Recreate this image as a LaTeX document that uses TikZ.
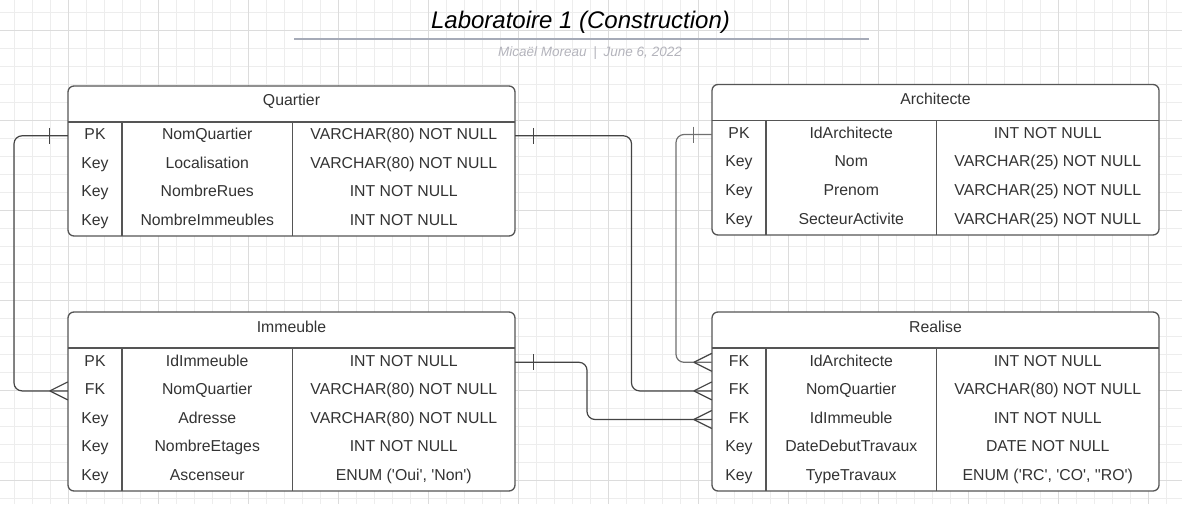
\documentclass[tikz,border=0pt]{standalone}
\usepackage{fontspec}
\setmainfont{Liberation Sans}[Ligatures=TeXOff]
\usetikzlibrary{calc}
\definecolor{gminor}{HTML}{EDEDED}
\definecolor{gmajor}{HTML}{DCDCDC}
\definecolor{txt}{HTML}{333333}
\definecolor{border}{HTML}{555555}
\definecolor{linec}{HTML}{444444}
\definecolor{linelight}{HTML}{707070}
\definecolor{rulec}{HTML}{A6ABB8}
\definecolor{subc}{HTML}{B4B4BC}
\tikzset{
  gridminor/.style={draw=gminor, line width=1pt},
  gridmajor/.style={draw=gmajor, line width=1pt},
  tbl/.style={draw=border, line width=1.3pt, fill=white, rounded corners=6pt},
  sep/.style={draw=border, line width=1.2pt},
  cellbase/.style={inner sep=0pt, minimum height=28.5pt, text height=11pt, text depth=3.5pt,
    text=txt, font=\fontsize{15.8}{18}\selectfont},
  cellk/.style={cellbase, minimum width=54pt},
  celln/.style={cellbase, minimum width=170.5pt},
  cellt/.style={cellbase, minimum width=222.5pt},
  hdr/.style={cellbase},
  conn/.style={draw=linec, line width=1.2pt, rounded corners=8pt},
  connl/.style={draw=linelight, line width=1.2pt, rounded corners=8pt},
  mark1/.style={draw=linec, line width=1.2pt},
}
\newcommand\errow[7]{%
  \node[cellk] (#1k#2) at (#3+27,#4) {#5};
  \node[celln] (#1n#2) at (#3+54+85.25,#4) {#6};
  \node[cellt] (#1t#2) at (#3+224.5+111.25,#4) {#7};
}
\begin{document}
\begin{tikzpicture}[x=1pt,y=-1pt]
\useasboundingbox (0,0) rectangle (1182,504);
\fill[white] (0,0) rectangle (1182,504);
% grid
\foreach \x in {14,32,...,1182} \draw[gridminor] (\x,0) -- (\x,504);
\foreach \y in {12,30,...,504} \draw[gridminor] (0,\y) -- (1182,\y);
\foreach \x in {68,158,...,1182} \draw[gridmajor] (\x,0) -- (\x,504);
\foreach \y in {30,120,...,504} \draw[gridmajor] (0,\y) -- (1182,\y);

% title
\node[anchor=base, inner sep=0pt, font=\fontsize{24}{28}\selectfont\itshape] (title) at (580.5,28) {Laboratoire 1 (Construction)};
\draw[draw=rulec, line width=2pt] (294,38.5) -- (869,38.5);
\node[anchor=base, inner sep=0pt, text=subc, font=\fontsize{13.5}{16}\selectfont\itshape] (sub) at (590,56) {Micaël Moreau\enspace|\enspace June 6, 2022};

% ---------- Quartier ----------
\draw[tbl] (68,86) rectangle (515,236);
\draw[sep] (68,122) -- (515,122);
\draw[sep] (122,122) -- (122,236);
\draw[sep] (292.5,122) -- (292.5,236);
\node[hdr] (qh) at (291.5,102) {Quartier};
\errow{q}{1}{68}{135.8}{PK}{NomQuartier}{VARCHAR(80) NOT NULL}
\errow{q}{2}{68}{164.5}{Key}{Localisation}{VARCHAR(80) NOT NULL}
\errow{q}{3}{68}{193}{Key}{NombreRues}{INT NOT NULL}
\errow{q}{4}{68}{221.5}{Key}{NombreImmeubles}{INT NOT NULL}

% ---------- Architecte ----------
\draw[tbl] (712,84.5) rectangle (1159,235);
\draw[sep] (712,120.5) -- (1159,120.5);
\draw[sep] (766,120.5) -- (766,235);
\draw[sep] (936.5,120.5) -- (936.5,235);
\node[hdr] (ah) at (935.5,101) {Architecte};
\errow{a}{1}{712}{134.5}{PK}{IdArchitecte}{INT NOT NULL}
\errow{a}{2}{712}{163.2}{Key}{Nom}{VARCHAR(25) NOT NULL}
\errow{a}{3}{712}{191.8}{Key}{Prenom}{VARCHAR(25) NOT NULL}
\errow{a}{4}{712}{220.4}{Key}{SecteurActivite}{VARCHAR(25) NOT NULL}

% ---------- Immeuble ----------
\draw[tbl] (68,312) rectangle (515,491);
\draw[sep] (68,348) -- (515,348);
\draw[sep] (122,348) -- (122,491);
\draw[sep] (292.5,348) -- (292.5,491);
\node[hdr] (ih) at (291.5,328.5) {Immeuble};
\errow{i}{1}{68}{362.3}{PK}{IdImmeuble}{INT NOT NULL}
\errow{i}{2}{68}{390.9}{FK}{NomQuartier}{VARCHAR(80) NOT NULL}
\errow{i}{3}{68}{419.5}{Key}{Adresse}{VARCHAR(80) NOT NULL}
\errow{i}{4}{68}{448.1}{Key}{NombreEtages}{INT NOT NULL}
\errow{i}{5}{68}{476.7}{Key}{Ascenseur}{ENUM ('Oui', 'Non')}

% ---------- Realise ----------
\draw[tbl] (712,312) rectangle (1159,491);
\draw[sep] (712,348) -- (1159,348);
\draw[sep] (766,348) -- (766,491);
\draw[sep] (936.5,348) -- (936.5,491);
\node[hdr] (rh) at (935.5,328.5) {Realise};
\errow{r}{1}{712}{362.3}{FK}{IdArchitecte}{INT NOT NULL}
\errow{r}{2}{712}{390.9}{FK}{NomQuartier}{VARCHAR(80) NOT NULL}
\errow{r}{3}{712}{419.5}{FK}{IdImmeuble}{INT NOT NULL}
\errow{r}{4}{712}{448.1}{Key}{DateDebutTravaux}{DATE NOT NULL}
\errow{r}{5}{712}{476.7}{Key}{TypeTravaux}{ENUM ('RC', 'CO', ''RO')}

% ---------- connectors ----------
\coordinate (lx) at (14,0);
\coordinate (mx) at (631.5,0);
\coordinate (ax) at (676,0);
\coordinate (ix) at (587,0);

% Quartier -> Immeuble
\draw[conn] (qk1.west) -| (lx |- ik2.west) -- (ik2.west);
\draw[mark1] ([xshift=-18pt,yshift=8pt]qk1.west) -- ([xshift=-18pt,yshift=-8pt]qk1.west);
\draw[mark1] ([xshift=-18pt]ik2.west) -- ([yshift=9pt]ik2.west)
             ([xshift=-18pt]ik2.west) -- ([yshift=-9pt]ik2.west);

% Quartier -> Realise
\draw[conn] (qt1.east) -| (mx |- rk2.west) -- (rk2.west);
\draw[mark1] ([xshift=18pt,yshift=8pt]qt1.east) -- ([xshift=18pt,yshift=-8pt]qt1.east);
\draw[mark1] ([xshift=-18pt]rk2.west) -- ([yshift=9pt]rk2.west)
             ([xshift=-18pt]rk2.west) -- ([yshift=-9pt]rk2.west);

% Architecte -> Realise
\draw[connl] (ak1.west) -| (ax |- rk1.west) -- (rk1.west);
\draw[mark1, draw=linelight] ([xshift=-18pt,yshift=8pt]ak1.west) -- ([xshift=-18pt,yshift=-8pt]ak1.west);
\draw[mark1] ([xshift=-18pt]rk1.west) -- ([yshift=9pt]rk1.west)
             ([xshift=-18pt]rk1.west) -- ([yshift=-9pt]rk1.west);

% Immeuble -> Realise
\draw[conn] (it1.east) -| (ix |- rk3.west) -- (rk3.west);
\draw[mark1] ([xshift=18pt,yshift=8pt]it1.east) -- ([xshift=18pt,yshift=-8pt]it1.east);
\draw[mark1] ([xshift=-18pt]rk3.west) -- ([yshift=9pt]rk3.west)
             ([xshift=-18pt]rk3.west) -- ([yshift=-9pt]rk3.west);
\end{tikzpicture}
\end{document}
